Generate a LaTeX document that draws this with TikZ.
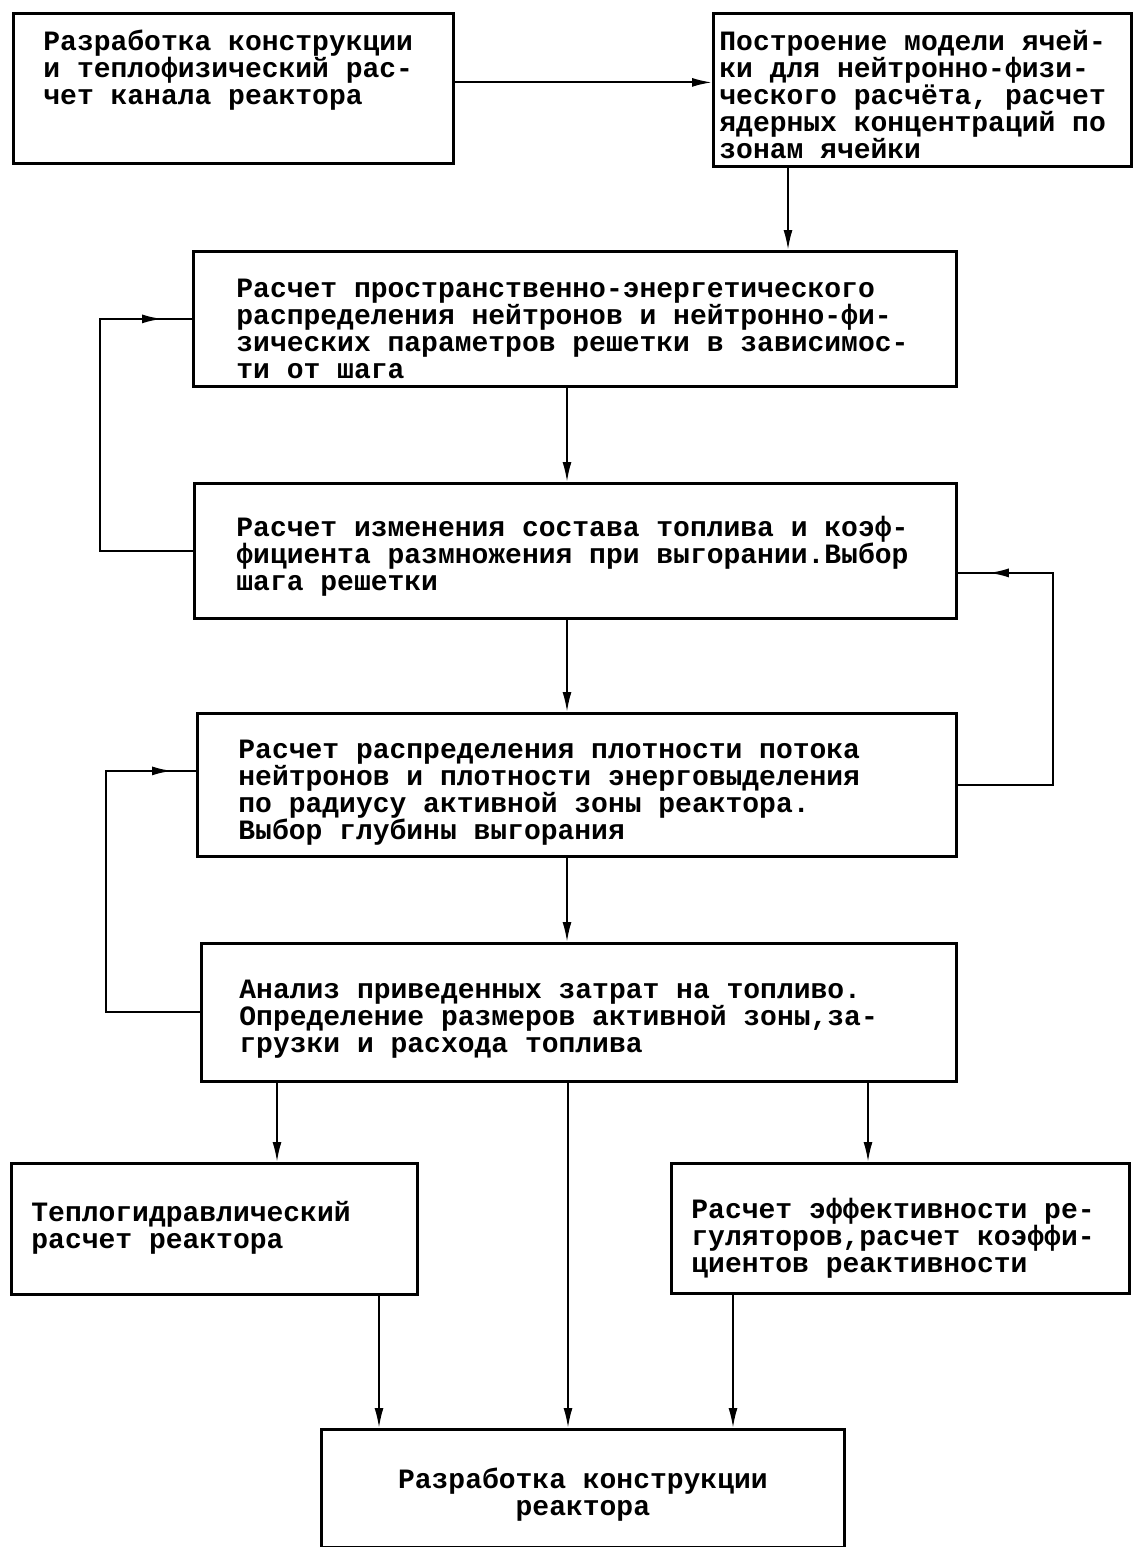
\documentclass[tikz,border=0pt]{standalone}
\usepackage{fontspec}
\setmonofont{Liberation Mono}
\usepackage{tikz}
\usetikzlibrary{arrows.meta}
% width, height, left indent, first baseline, text
\newcommand{\blocktext}[5]{\begin{minipage}[c][#2][t]{#1}\raggedright\leftskip=#3\relax
  \rule{0pt}{#4}#5\end{minipage}}

\begin{document}
\begin{tikzpicture}[x=0.5pt,y=-0.5pt,
    blk/.style={draw,line width=1.4pt,anchor=north west,inner sep=0pt,
      font=\ttfamily\bfseries\fontsize{14}{13.5}\selectfont},
    con/.style={line width=1pt},
    arr/.style={con,-{Latex[length=10pt,width=4.5pt]}}]
  \useasboundingbox (0,0) rectangle (1140,1547);
  % blocks
  \node[blk] (b1) at (12,12) {\blocktext{220pt}{75pt}{15pt}{18.5pt}
    {Разработка конструкции\\и теплофизический рас-\\чет канала реактора}};
  \node[blk] (b2) at (712,12) {\blocktext{209pt}{76.5pt}{3pt}{18.5pt}
    {Построение модели ячей-\\ки для нейтронно-физи-\\ческого расчёта, расчет\\ядерных концентраций по\\зонам ячейки}};
  \node[blk] (b3) at (192,250) {\blocktext{381.5pt}{67.5pt}{21.5pt}{23pt}
    {Расчет пространственно-энергетического\\распределения нейтронов и нейтронно-фи-\\зических параметров решетки в зависимос-\\ти от шага}};
  \node[blk] (b4) at (193,482) {\blocktext{381pt}{67.5pt}{21pt}{26.5pt}
    {Расчет изменения состава топлива и коэф-\\фициента размножения при выгорании.Выбор\\шага решетки}};
  \node[blk] (b5) at (196,712) {\blocktext{379.5pt}{71.5pt}{20.5pt}{22.5pt}
    {Расчет распределения плотности потока\\нейтронов и плотности энерговыделения\\по радиусу активной зоны реактора.\\Выбор глубины выгорания}};
  \node[blk] (b6) at (200,942) {\blocktext{377.5pt}{69pt}{19pt}{27.5pt}
    {Анализ приведенных затрат на топливо.\\Определение размеров активной зоны,за-\\грузки и расхода топлива}};
  \node[blk] (b7) at (10,1162) {\blocktext{203pt}{65.5pt}{10pt}{29pt}
    {Теплогидравлический\\расчет реактора}};
  \node[blk] (b8) at (670,1162) {\blocktext{229pt}{65pt}{10pt}{27.5pt}
    {Расчет эффективности ре-\\гуляторов,расчет коэффи-\\циентов реактивности}};
  \node[blk] (b9) at (320,1428) {\blocktext{261.5pt}{59pt}{0pt}{29.5pt}
    {\centering Разработка конструкции\\реактора}};

  % main flow
  \coordinate (a1) at ([yshift=3pt]b1.east);
  \draw[arr] (a1) -- (a1 -| b2.west);
  \draw[arr] (b2.south west) ++(76,0) coordinate (t2) -- (t2 |- b3.north);
  \draw[arr] (b3.south west) ++(375,0) coordinate (t3) -- (t3 |- b4.north);
  \draw[arr] (b4.south west) ++(374,0) coordinate (t4) -- (t4 |- b5.north);
  \draw[arr] (b5.south west) ++(371,0) coordinate (t5) -- (t5 |- b6.north);

  % feedback loops
  \coordinate (e4) at ([yshift=-11pt]b4.east);
  \coordinate (w5) at ([yshift=7pt]b5.west);
  \draw[con] (b4.west) -- ++(-93,0) coordinate (l1) |- (b3.west);
  \draw[arr] (l1 |- b3.west) -- ++(62,0);
  \draw[con] (b5.east) -- ++(95,0) coordinate (r1) |- (e4);
  \draw[arr] (r1 |- e4) -- ++(-64,0);
  \draw[con] (b6.west) -- ++(-94,0) coordinate (l2) |- (w5);
  \draw[arr] (l2 |- w5) -- ++(66,0);

  % outputs
  \draw[arr] (b6.south west) ++(77,0) coordinate (t7) -- (t7 |- b7.north);
  \draw[arr] (b6.south west) ++(668,0) coordinate (t8) -- (t8 |- b8.north);
  \draw[arr] (b6.south west) ++(368,0) coordinate (t6) -- (t6 |- b9.north);
  \draw[arr] (b7.south west) ++(369,0) coordinate (f7) -- (f7 |- b9.north);
  \draw[arr] (b8.south west) ++(63,0) coordinate (f8) -- (f8 |- b9.north);
\end{tikzpicture}
\end{document}
